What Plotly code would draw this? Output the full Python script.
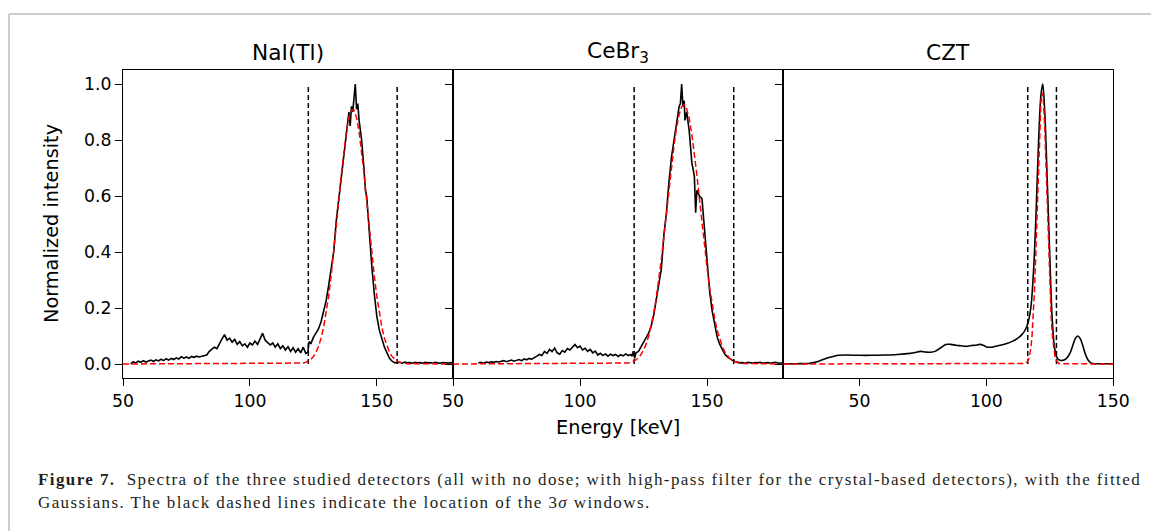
import plotly.graph_objects as go

# ---------------- data ----------------
detectors = ["NaI(Tl)", "CeBr<sub>3</sub>", "CZT"]
x_ticks = [50, 100, 150]
y_ticks = [0.0, 0.2, 0.4, 0.6, 0.8, 1.0]
y_tick_labels = ["0.0", "0.2", "0.4", "0.6", "0.8", "1.0"]

nai_energy = [53, 54, 55, 56, 57, 58, 59, 60, 61, 62,
              63, 64, 65, 66, 67, 68, 69, 70, 71, 72,
              73, 74, 75, 76, 77, 78, 79, 80, 81, 82,
              83, 84, 85, 86, 87, 88, 89, 90, 91, 92,
              93, 94, 95, 96, 97, 98, 99, 100, 101, 102,
              103, 104, 105, 106, 107, 108, 109, 110, 111, 112,
              113, 114, 115, 116, 117, 118, 119, 120, 121, 122,
              122.8, 123.3, 124, 125, 126, 127, 128, 129, 130, 131,
              132, 133, 134, 135, 136, 137, 138, 139, 139.5, 140,
              140.5, 141, 141.5, 142, 142.5, 143, 144, 145, 145.5, 146,
              147, 148, 149, 150, 151, 152, 153, 154, 155, 156,
              157, 158, 159, 160, 161, 162, 163, 164, 165, 166,
              167, 168, 169, 170, 171, 172, 173, 174, 175, 176,
              177, 178, 179, 180]
nai_counts = [0.000, 0.008, 0.004, 0.010, 0.006, 0.012, 0.007, 0.011, 0.014, 0.009,
              0.015, 0.011, 0.017, 0.012, 0.019, 0.014, 0.020, 0.016, 0.022, 0.018,
              0.026, 0.021, 0.025, 0.020, 0.027, 0.024, 0.028, 0.025, 0.027, 0.030,
              0.032, 0.045, 0.052, 0.060, 0.055, 0.075, 0.090, 0.105, 0.085, 0.092,
              0.078, 0.088, 0.070, 0.080, 0.065, 0.072, 0.060, 0.075, 0.068, 0.082,
              0.070, 0.090, 0.110, 0.085, 0.078, 0.068, 0.075, 0.060, 0.072, 0.055,
              0.065, 0.050, 0.062, 0.045, 0.058, 0.042, 0.055, 0.040, 0.060, 0.038,
              0.042, 0.080, 0.072, 0.095, 0.110, 0.125, 0.150, 0.190, 0.225, 0.280,
              0.340, 0.400, 0.510, 0.585, 0.680, 0.740, 0.810, 0.900, 0.850, 0.920,
              0.900, 0.950, 1.000, 0.910, 0.930, 0.870, 0.800, 0.690, 0.620, 0.600,
              0.460, 0.350, 0.250, 0.170, 0.120, 0.085, 0.060, 0.040, 0.020, 0.010,
              0.005, 0.004, 0.006, 0.003, 0.007, 0.004, 0.005, 0.003, 0.006, 0.004,
              0.005, 0.003, 0.006, 0.004, 0.005, 0.003, 0.006, 0.004, 0.003, 0.005,
              0.004, 0.003, 0.005, 0.004]

nai_fit_energy = [50, 119, 120, 121, 122, 123, 124, 125, 126, 127, 128, 129, 130,
                  131, 132, 133, 134, 135, 136, 137, 138, 139, 140, 141, 142, 143,
                  144, 145, 146, 147, 148, 149, 150, 151, 152, 153, 154, 155, 156,
                  157, 158, 159, 160, 161, 162, 180]
nai_fit = [0.0, 0.001, 0.0019, 0.0034, 0.0059, 0.0101, 0.0166, 0.0266, 0.0413, 0.0624,
           0.0915, 0.130, 0.180, 0.241, 0.315, 0.398, 0.489, 0.583, 0.676, 0.760,
           0.830, 0.880, 0.907, 0.907, 0.880, 0.830, 0.760, 0.676, 0.583, 0.489,
           0.398, 0.315, 0.241, 0.180, 0.130, 0.0915, 0.0624, 0.0413, 0.0266, 0.0166,
           0.0101, 0.0059, 0.0034, 0.0019, 0.001, 0.0]

cebr_energy = [60, 61, 62, 63, 64, 65, 66, 67, 68, 69,
               70, 71, 72, 73, 74, 75, 76, 77, 78, 79,
               80, 81, 82, 83, 84, 85, 86, 87, 88, 89,
               90, 91, 92, 93, 94, 95, 96, 97, 98, 99,
               100, 101, 102, 103, 104, 105, 106, 107, 108, 109,
               110, 111, 112, 113, 114, 115, 116, 117, 118, 119,
               120, 120.5, 121, 121.5, 122, 123, 124, 125, 126, 127,
               128, 129, 130, 131, 132, 133, 134, 135, 136, 137,
               138, 139, 139.5, 140, 140.5, 141, 141.3, 142, 143, 144,
               145, 145.5, 146, 147, 148, 149, 150, 151, 152, 153,
               154, 155, 156, 157, 158, 159, 160, 161, 162, 163,
               164, 165, 166, 167, 168, 169, 170, 171, 172, 173,
               174, 175, 176, 177, 178, 179, 180]
cebr_counts = [0.004, 0.006, 0.003, 0.007, 0.005, 0.008, 0.006, 0.009, 0.007, 0.010,
               0.012, 0.008, 0.011, 0.014, 0.010, 0.013, 0.016, 0.012, 0.018, 0.015,
               0.020, 0.017, 0.024, 0.028, 0.034, 0.030, 0.045, 0.038, 0.052, 0.044,
               0.057, 0.040, 0.035, 0.048, 0.042, 0.055, 0.050, 0.062, 0.070, 0.058,
               0.064, 0.050, 0.056, 0.045, 0.052, 0.040, 0.046, 0.032, 0.038, 0.030,
               0.036, 0.028, 0.035, 0.030, 0.034, 0.027, 0.033, 0.029, 0.036, 0.030,
               0.034, 0.028, 0.046, 0.020, 0.040, 0.045, 0.060, 0.075, 0.090, 0.110,
               0.135, 0.175, 0.230, 0.290, 0.340, 0.460, 0.540, 0.650, 0.740, 0.800,
               0.860, 0.920, 0.930, 1.000, 0.920, 0.940, 0.870, 0.900, 0.830, 0.720,
               0.670, 0.540, 0.620, 0.600, 0.590, 0.470, 0.360, 0.260, 0.190, 0.140,
               0.095, 0.070, 0.050, 0.035, 0.025, 0.018, 0.013, 0.009, 0.006, 0.004,
               0.005, 0.003, 0.006, 0.004, 0.003, 0.005, 0.004, 0.006, 0.003, 0.004,
               0.005, 0.003, 0.004, 0.006, 0.003, 0.004, 0.003]

cebr_fit_energy = [50, 118, 119, 120, 121, 122, 123, 124, 125, 126, 127, 128, 129,
                   130, 131, 132, 133, 134, 135, 136, 137, 138, 139, 140, 141, 142,
                   143, 144, 145, 146, 147, 148, 149, 150, 151, 152, 153, 154, 155,
                   156, 157, 158, 159, 160, 161, 162, 163, 164, 180]
cebr_fit = [0.0, 0.002, 0.0035, 0.0058, 0.0094, 0.0147, 0.0226, 0.0339, 0.0496, 0.0710,
            0.0993, 0.1357, 0.181, 0.236, 0.300, 0.374, 0.454, 0.538, 0.624, 0.707,
            0.781, 0.845, 0.891, 0.919, 0.926, 0.911, 0.875, 0.821, 0.753, 0.675,
            0.590, 0.504, 0.421, 0.343, 0.273, 0.213, 0.162, 0.120, 0.087, 0.062,
            0.0427, 0.0289, 0.0191, 0.0123, 0.0078, 0.0048, 0.003, 0.002, 0.0]

czt_energy = [20, 25, 30, 32, 34, 36, 38, 40, 42, 45,
              50, 55, 60, 65, 70, 72, 74, 76, 78, 80,
              82, 84, 86, 88, 90, 92, 94, 96, 97.5, 99,
              100, 102, 104, 106, 108, 110, 112, 114, 115.5, 116.5,
              117.5, 118.5, 119.5, 120.5, 121.5, 122.2, 123, 124, 125, 126,
              127, 128, 129, 130, 131, 132, 133, 134, 135, 136,
              137, 138, 139, 140, 141, 142, 145, 150]
czt_counts = [0.000, 0.001, 0.002, 0.005, 0.010, 0.017, 0.023, 0.028, 0.031, 0.032,
              0.031, 0.031, 0.032, 0.034, 0.038, 0.041, 0.045, 0.043, 0.042, 0.046,
              0.058, 0.070, 0.070, 0.067, 0.065, 0.063, 0.066, 0.067, 0.070, 0.066,
              0.061, 0.060, 0.064, 0.068, 0.073, 0.080, 0.090, 0.105, 0.125, 0.150,
              0.200, 0.320, 0.520, 0.780, 0.960, 1.000, 0.900, 0.650, 0.380, 0.150,
              0.050, 0.020, 0.013, 0.013, 0.016, 0.025, 0.040, 0.065, 0.090, 0.100,
              0.090, 0.065, 0.035, 0.015, 0.005, 0.002, 0.001, 0.001]

czt_fit_energy = [20, 115.5, 116, 116.5, 117, 117.5, 118, 118.5, 119, 119.5, 120,
                  120.5, 121, 121.5, 122, 122.5, 123, 123.5, 124, 124.5, 125, 125.5,
                  126, 126.5, 127, 127.5, 128, 128.5, 129, 150]
czt_fit = [0.0, 0.002, 0.006, 0.0134, 0.0283, 0.0553, 0.101, 0.171, 0.272, 0.401, 0.551,
           0.706, 0.842, 0.936, 0.970, 0.936, 0.842, 0.706, 0.551, 0.401, 0.272, 0.171,
           0.101, 0.0553, 0.0283, 0.0134, 0.006, 0.0025, 0.001, 0.0]

window_low = [123.0, 121.3, 116.3]
window_high = [158.0, 160.5, 127.6]
window_top = 1.0
x_ranges = [[50, 180], [50, 180], [20, 150]]
y_range = [-0.05, 1.05]

caption_line1 = ("<b>Figure\u00a07.</b>\u00a0\u00a0Spectra of the three studied detectors "
                 "(all with no dose; with high-pass filter for the crystal-based detectors), "
                 "with the fitted")
caption_line2 = "Gaussians. The black dashed lines indicate the location of the 3<i>σ</i> windows."

# ---------------- figure ----------------
W, H = 1151, 531
def fx(p):
    return p / W
def fy(p):
    return 1 - p / H

panel_px = [(123, 453), (453, 783.3), (783.3, 1113.3)]
plot_top, plot_bottom = 70, 378

spectra = [(nai_energy, nai_counts, nai_fit_energy, nai_fit),
           (cebr_energy, cebr_counts, cebr_fit_energy, cebr_fit),
           (czt_energy, czt_counts, czt_fit_energy, czt_fit)]

fig = go.Figure()
FONT = "DejaVu Sans"
for i, (ex, ey, fxv, fyv) in enumerate(spectra):
    xa = "x" if i == 0 else f"x{i+1}"
    ya = "y" if i == 0 else f"y{i+1}"
    for xv in (window_low[i], window_high[i]):
        fig.add_trace(go.Scatter(x=[xv, xv], y=[0, window_top], mode="lines",
                                 line=dict(color="black", width=1.5, dash="5px,3px"),
                                 xaxis=xa, yaxis=ya, showlegend=False, hoverinfo="skip"))
    fig.add_trace(go.Scatter(x=ex, y=ey, mode="lines",
                             line=dict(color="black", width=1.6,
                                       shape="spline" if i == 2 else "linear"),
                             xaxis=xa, yaxis=ya, showlegend=False))
    fig.add_trace(go.Scatter(x=fxv, y=fyv, mode="lines",
                             line=dict(color="red", width=1.5, dash="6px,3px"),
                             xaxis=xa, yaxis=ya, showlegend=False))

axis_common = dict(showline=True, mirror=True, linecolor="black", linewidth=1.3,
                   ticks="outside", ticklen=7, tickwidth=1.3, tickcolor="black",
                   showgrid=False, zeroline=False,
                   tickfont=dict(family=FONT, size=17.3, color="black"))
layout_axes = {}
for i in range(3):
    xk = "xaxis" if i == 0 else f"xaxis{i+1}"
    yk = "yaxis" if i == 0 else f"yaxis{i+1}"
    ya = "y" if i == 0 else f"y{i+1}"
    xa = "x" if i == 0 else f"x{i+1}"
    l, r = panel_px[i]
    layout_axes[xk] = dict(axis_common, domain=[fx(l), fx(r)], range=x_ranges[i],
                           tickvals=x_ticks, anchor=ya)
    layout_axes[yk] = dict(axis_common, domain=[fy(plot_bottom), fy(plot_top)], range=y_range,
                           tickvals=y_ticks, ticktext=y_tick_labels, anchor=xa,
                           showticklabels=(i == 0))

fig.update_layout(width=W, height=H, margin=dict(l=0, r=0, t=0, b=0, autoexpand=False),
                  paper_bgcolor="white", plot_bgcolor="white", **layout_axes)

CAP_STYLE = "letter-spacing:1.4px"
ann = []
for i, name in enumerate(detectors):
    l, r = panel_px[i]
    ann.append(dict(text=name, x=fx((l + r) / 2), y=fy(52), xref="paper", yref="paper",
                    xanchor="center", yanchor="middle", showarrow=False,
                    font=dict(family=FONT, size=21.7, color="black")))
ann.append(dict(text="Energy [keV]", x=fx(618), y=fy(427), xref="paper", yref="paper",
                xanchor="center", yanchor="middle", showarrow=False,
                font=dict(family=FONT, size=19.3, color="black")))
ann.append(dict(text="Normalized intensity", x=fx(52), y=fy(224), xref="paper", yref="paper",
                xanchor="center", yanchor="middle", showarrow=False, textangle=-90,
                font=dict(family=FONT, size=19.3, color="black")))
ann.append(dict(text=f'<span style="{CAP_STYLE}">{caption_line1}</span>',
                x=fx(36), y=fy(479), xref="paper", yref="paper",
                xanchor="left", yanchor="middle", showarrow=False,
                font=dict(family="Liberation Serif", size=17, color="#231f20")))
ann.append(dict(text=f'<span style="{CAP_STYLE}">{caption_line2}</span>',
                x=fx(36), y=fy(502), xref="paper", yref="paper",
                xanchor="left", yanchor="middle", showarrow=False,
                font=dict(family="Liberation Serif", size=17, color="#231f20")))
fig.update_layout(annotations=ann)

# frame of the figure box
fig.add_shape(type="line", xref="paper", yref="paper", x0=fx(9), x1=1.0, y0=fy(14), y1=fy(14),
              line=dict(color="#bdbdbd", width=1.5))
fig.add_shape(type="line", xref="paper", yref="paper", x0=fx(9), x1=fx(9), y0=0, y1=fy(14),
              line=dict(color="#bdbdbd", width=1.5))

fig.write_html("out.html", config={"responsive": False, "displayModeBar": False},
               post_script="document.body.style.margin='0px';document.body.style.overflow='hidden';")
